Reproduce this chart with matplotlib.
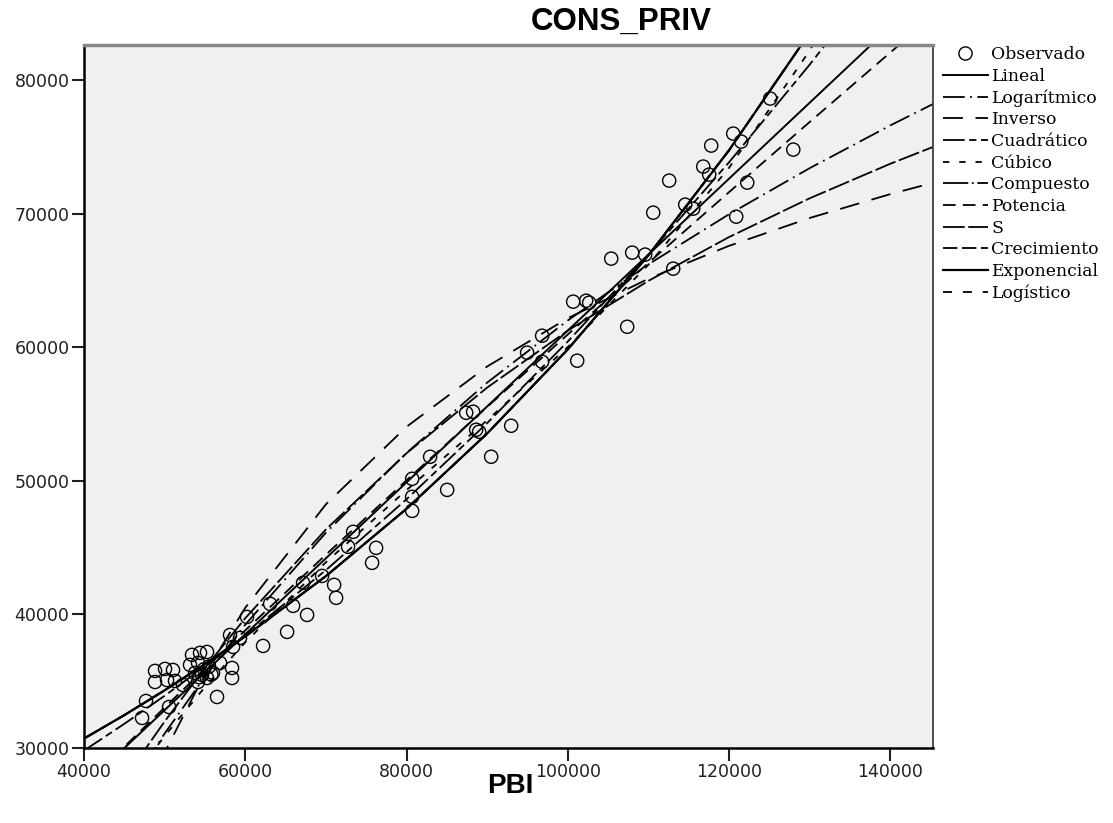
import numpy as np
import matplotlib
matplotlib.use("Agg")
import matplotlib.pyplot as plt
from matplotlib.lines import Line2D

# Observed data (PBI, CONS_PRIV)
pbi = [47200, 47690, 48810, 48810, 50050, 51040, 50300, 51290, 50550, 52280,
       53150, 53400, 54390, 55260, 54140, 53770, 54640, 55260, 54140, 56000,
       56870, 58360, 58360, 56500, 58110, 59350, 58490, 62210, 60220, 63080,
       65930, 65190, 67670, 67170, 69530, 71020, 71270, 73380, 72750, 76230,
       75730, 80700, 85040, 80700, 80700, 82930, 90500, 87400, 88260, 88640,
       89010, 92980, 94960, 96820, 101170, 96820, 100670, 102280, 102660, 107370,
       105390, 107990, 109600, 113080, 110600, 114570, 115560, 120890, 112580, 116800,
       117540, 122260, 117790, 120520, 121510, 125110, 127970,
       54900, 55500, 54300, 55800]
cons_priv = [32250, 33520, 35770, 34940, 35920, 35840, 35090, 35020, 33070, 34720,
             36220, 36970, 37120, 37190, 36370, 35620, 35470, 35240, 34940, 35620,
             36370, 35990, 35240, 33820, 38460, 38240, 37570, 37640, 39810, 40790,
             40640, 38690, 39960, 42360, 42880, 42210, 41240, 46180, 45060, 44980,
             43860, 50150, 49320, 48800, 47750, 51800, 51800, 55090, 55170, 53820,
             53670, 54120, 59590, 58910, 58990, 60860, 63410, 63480, 63330, 61530,
             66630, 67080, 66930, 65880, 70070, 70670, 70370, 69770, 72470, 73520,
             72920, 72320, 75090, 75990, 75390, 78610, 74790,
             35900, 36100, 35300, 35500]

# Fitted curves, sampled along PBI
curve_x = [40000, 45000, 50000, 55000, 60000, 70000, 80000, 90000, 100000,
           110000, 120000, 130000, 140000, 145300]
fit_lineal = [27151, 29992, 32834, 35675, 38516, 44199, 49882, 55565, 61247,
              66930, 72613, 78296, 83978, 86990]
fit_logaritmico = [21108, 26372, 31081, 35340, 39228, 46117, 52085, 57348, 62000,
                   66200, 69950, 73400, 76600, 78200]
fit_inverso = [13406, 22436, 29660, 35571, 40496, 48236, 54041, 58556, 62168,
               65124, 67587, 69670, 71457, 72304]
fit_cuadratico = [29808, 31808, 33909, 36109, 38410, 43312, 48616, 54320, 60425,
                  66932, 73839, 81147, 88857, 93105]
fit_cubico = [22455, 26884, 30900, 34557, 37908, 43900, 49300, 54530, 60012,
              66170, 73425, 82200, 92919, 99529]
fit_compuesto = [30705, 32461, 34317, 36279, 38353, 42864, 47906, 53540, 59837,
                 66875, 74740, 83531, 93355, 99023]
fit_potencia = [27119, 30094, 33031, 35934, 38806, 44470, 50040, 55530, 60949,
                66305, 71605, 76854, 82056, 84796]
fit_s = [23113, 27684, 31983, 35993, 39716, 46359, 52061, 56976, 61241,
         64966, 68243, 71145, 73730, 74989]
fit_crecimiento = fit_compuesto
fit_exponencial = fit_compuesto
fit_logistico = fit_compuesto

series = [
    ('Lineal', fit_lineal, '-', 1.4),
    ('Logarítmico', fit_logaritmico, (0, (12, 3, 1, 3)), 1.3),
    ('Inverso', fit_inverso, (0, (11, 7)), 1.3),
    ('Cuadrático', fit_cuadratico, (0, (12, 2.5, 4, 2.5)), 1.3),
    ('Cúbico', fit_cubico, (0, (3.5, 5.5)), 1.3),
    ('Compuesto', fit_compuesto, (0, (14, 2, 1, 2)), 1.3),
    ('Potencia', fit_potencia, (0, (7, 4)), 1.3),
    ('S', fit_s, (0, (12, 2)), 1.3),
    ('Crecimiento', fit_crecimiento, (0, (8, 2.5)), 1.3),
    ('Exponencial', fit_exponencial, '-', 1.6),
    ('Logístico', fit_logistico, (0, (5, 6)), 1.3),
]

fig = plt.figure(figsize=(11.13, 8.23), dpi=100)
ax = fig.add_axes([84/1113, 75/823, 849/1113, 703/823])
ax.set_facecolor('#f0f0f0')
ax.set_xlim(40000, 145300)
ax.set_ylim(30000, 82620)

ax.scatter(pbi, cons_priv, s=90, facecolors='none', edgecolors='black',
           linewidths=1.0, zorder=3)
for lab, vals, ls, lw in series:
    ax.plot(curve_x, vals, color='black', ls=ls, lw=lw)

ax.set_xticks([40000, 60000, 80000, 100000, 120000, 140000])
ax.set_yticks([30000, 40000, 50000, 60000, 70000, 80000])
ax.tick_params(labelsize=12.5, length=9, width=1.5, pad=1.5, colors='#202020')
for side in ['left', 'bottom']:
    ax.spines[side].set_linewidth(1.8)
    ax.spines[side].set_color('black')
ax.spines['top'].set_linewidth(2.5)
ax.spines['top'].set_color('#888888')
ax.spines['right'].set_linewidth(1.3)
ax.spines['right'].set_color('#404040')

fig.text(621/1113, 1-22/823, 'CONS_PRIV', family='Liberation Sans', fontweight='bold',
         fontsize=22.5, ha='center', va='center')
fig.text(510/1113, 1-786/823, 'PBI', family='Liberation Sans', fontweight='bold',
         fontsize=20, ha='center', va='center')

handles = [Line2D([], [], ls='none', marker='o', markersize=9.5, markerfacecolor='none',
                  markeredgecolor='black', markeredgewidth=1.0)]
labels = ['Observado']
for lab, vals, ls, lw in series:
    handles.append(Line2D([], [], color='black', ls=ls, lw=lw))
    labels.append(lab)
fig.legend(handles, labels, loc='upper left', bbox_to_anchor=(943/1113, 1-46/823),
           frameon=False, prop={'family': 'DejaVu Serif', 'size': 12.4},
           handlelength=2.6, handletextpad=0.2, labelspacing=0.27, borderpad=0,
           borderaxespad=0)

fig.savefig('out.png', dpi=100)
